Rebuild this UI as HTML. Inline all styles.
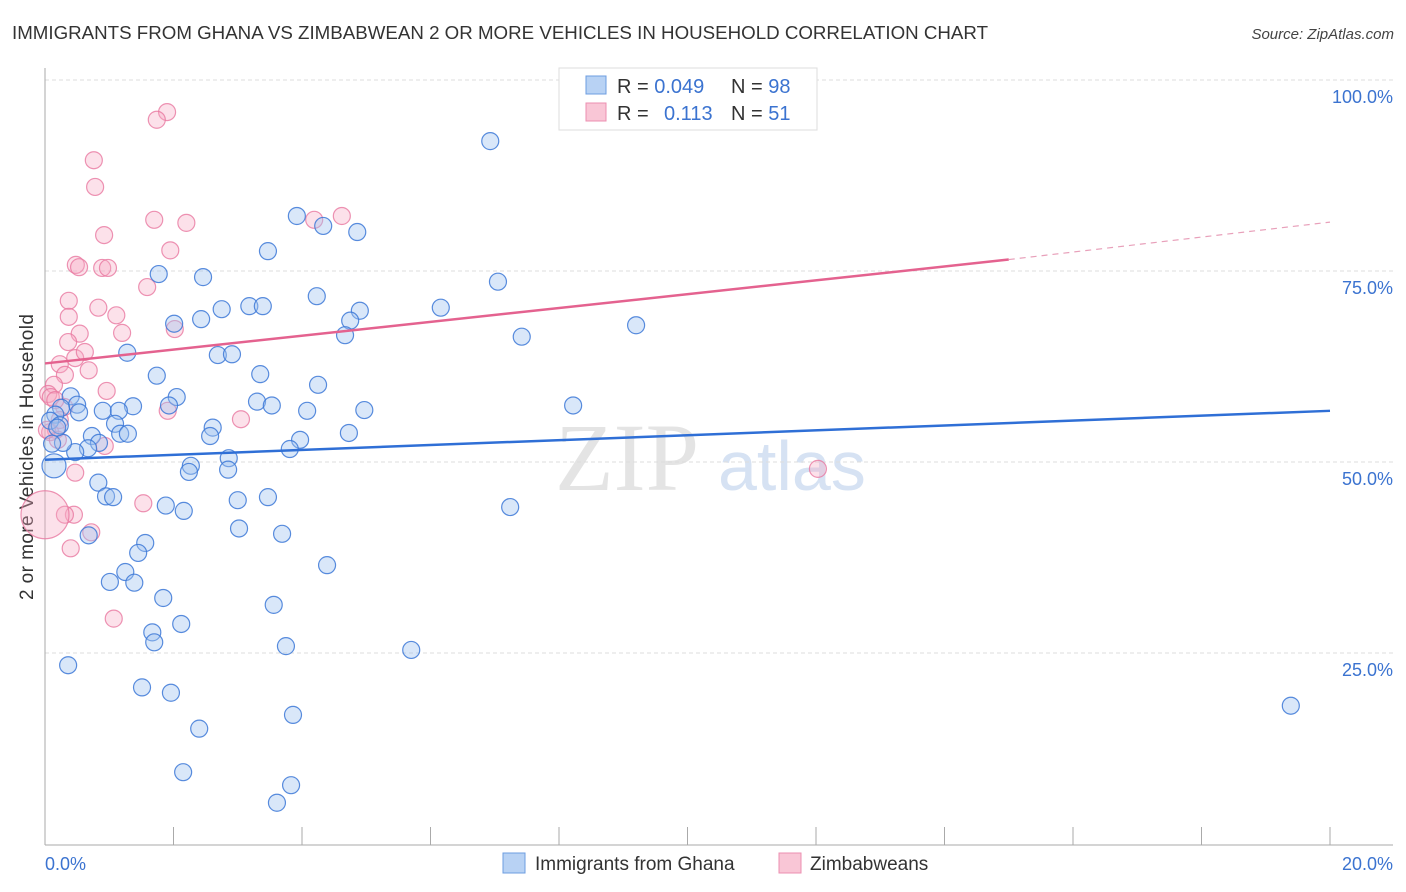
<!DOCTYPE html>
<html><head><meta charset="utf-8">
<style>
body{margin:0;background:#fff;font-family:"Liberation Sans",sans-serif;}
#wrap{position:relative;width:1406px;height:892px;overflow:hidden;}
</style></head>
<body>
<div id="wrap">
<svg id="chart" width="1406" height="892">
<text x="12" y="39" font-size="18" fill="#333" textLength="976" lengthAdjust="spacingAndGlyphs">IMMIGRANTS FROM GHANA VS ZIMBABWEAN 2 OR MORE VEHICLES IN HOUSEHOLD CORRELATION CHART</text>
<text x="1394" y="39" font-size="15" fill="#444" font-style="italic" text-anchor="end">Source: ZipAtlas.com</text>
<text x="0" y="0" transform="translate(33,457) rotate(-90)" font-size="19" fill="#333" text-anchor="middle" textLength="286">2 or more Vehicles in Household</text>
<text x="555" y="490" font-size="96" fill="#e4e4e4" font-family="Liberation Serif,serif">ZIP</text>
<text x="718" y="490" font-size="70" fill="#d6e2f3">atlas</text>
<g id="grid"></g><g id="axes"></g><g id="pts"></g><g id="lines"></g>
<g>
<rect x="559" y="68" width="258" height="62" fill="#fff" stroke="#ddd"/>
<rect x="586" y="76" width="20" height="18" fill="#b8d2f4" stroke="#6d9de0"/>
<rect x="586" y="103" width="20" height="18" fill="#f9c6d6" stroke="#ec8fb0"/>
<text x="617" y="93" font-size="20" fill="#333">R = <tspan fill="#3b73d0">0.049</tspan><tspan x="731">N = </tspan><tspan fill="#3b73d0">98</tspan></text>
<text x="617" y="120" font-size="20" fill="#333">R = <tspan x="664" fill="#3b73d0">0.113</tspan><tspan x="731">N = </tspan><tspan fill="#3b73d0">51</tspan></text>
</g>
<g>
<rect x="503" y="853" width="22" height="20" fill="#b8d2f4" stroke="#6d9de0"/>
<text x="535" y="870" font-size="19" fill="#333">Immigrants from Ghana</text>
<rect x="779" y="853" width="22" height="20" fill="#f9c6d6" stroke="#ec8fb0"/>
<text x="810" y="870" font-size="19" fill="#333">Zimbabweans</text>
</g>
</svg>
</div>
<script>
const xTicks=[0,2,4,6,8,10,12,14,16,18,20];
const yTicks=[25,50,75,100];
const yTickLabels=["25.0%","50.0%","75.0%","100.0%"];
const ghanaX=[6.93,3.92,4.33,4.86,3.47,1.77,2.46,7.05,4.23,3.18,3.39,2.75,4.90,6.16,4.75,2.01,2.43,4.67,7.42,9.20,1.28,2.69,2.91,1.74,3.35,4.25,2.05,0.40,0.50,8.22,3.30,3.53,4.08,4.97,1.93,1.37,0.90,1.15,0.53,0.25,0.16,1.09,2.61,0.08,0.23,2.57,1.17,1.29,4.73,0.73,3.97,3.81,0.84,0.67,0.47,0.28,2.86,2.27,2.24,2.85,0.83,0.95,1.06,3.00,3.47,1.88,2.16,7.24,3.02,3.69,0.68,1.56,1.45,4.39,1.25,1.01,1.39,1.84,3.56,1.67,2.12,1.70,3.75,5.70,0.36,1.51,1.96,2.40,3.86,19.39,2.15,3.83,3.61,0.19,0.11,0.14];
const ghanaY=[92.0,82.2,80.9,80.1,77.6,74.6,74.2,73.6,71.7,70.4,70.4,70.0,69.8,70.2,68.5,68.1,68.7,66.6,66.4,67.9,64.3,64.0,64.1,61.3,61.5,60.1,58.5,58.6,57.5,57.4,57.9,57.4,56.7,56.8,57.4,57.3,56.7,56.7,56.5,57.1,56.2,55.0,54.5,55.4,54.8,53.4,53.7,53.7,53.8,53.4,52.9,51.7,52.5,51.8,51.3,52.5,50.5,49.5,48.7,49.0,47.3,45.5,45.4,45.0,45.4,44.3,43.6,44.1,41.3,40.6,40.4,39.4,38.1,36.5,35.6,34.3,34.2,32.2,31.3,27.7,28.8,26.4,25.9,25.4,23.4,20.5,19.8,15.1,16.9,18.1,9.4,7.7,5.4,54.5,52.4,49.5];
const zimX=[1.90,1.74,0.76,0.78,1.70,2.20,4.19,4.62,0.92,1.95,0.48,0.53,0.89,0.98,1.59,0.37,0.83,1.11,0.37,2.02,1.20,0.54,0.36,0.47,0.62,0.68,0.23,0.31,0.14,0.96,0.05,0.09,0.30,1.91,3.05,0.17,0.08,0.20,0.93,0.47,1.53,0.45,0.31,0.72,0.40,1.07,12.03,0.00,0.16,0.23,0.03];
const zimY=[95.8,94.8,89.5,86.0,81.7,81.3,81.7,82.2,79.7,77.7,75.8,75.5,75.4,75.4,72.9,71.1,70.2,69.2,69.0,67.4,66.9,66.8,65.7,63.6,64.4,62.0,62.8,61.4,60.1,59.3,58.9,58.5,57.2,56.7,55.6,54.2,53.9,52.9,52.1,48.6,44.6,43.1,43.1,40.8,38.7,29.5,49.1,43.1,58.1,55.5,54.2];
const ghanaTrend=[50.3,56.7];
const zimTrend=[62.9,76.5,81.4];
const X0=45,X1=1330,Y0=844,Y100=80;
const sx=v=>X0+(v/20)*(X1-X0);
const sy=v=>Y0-(v/100)*(Y0-Y100);
const NS="http://www.w3.org/2000/svg";
function mk(tag,attrs,parent){const e=document.createElementNS(NS,tag);for(const k in attrs)e.setAttribute(k,attrs[k]);parent.appendChild(e);return e;}
const grid=document.getElementById('grid'),axes=document.getElementById('axes'),pts=document.getElementById('pts'),lines=document.getElementById('lines');
yTicks.forEach((t,i)=>{
 const l=mk('line',{x1:X0,x2:1393,y1:sy(t),y2:sy(t),stroke:'#ddd','stroke-dasharray':'4,3'},grid);
 
 
 const tx=mk('text',{x:1393,y:sy(t)+23,'font-size':18,fill:'#3b73d0','text-anchor':'end'},axes);
 tx.textContent=yTickLabels[i];
 
 
});
const ya=mk('line',{x1:X0,x2:X0,y1:68,y2:Y0+1,stroke:'#aaa'},axes);


const xa=mk('line',{x1:X0,x2:1393,y1:Y0+1,y2:Y0+1,stroke:'#aaa'},axes);


xTicks.forEach(t=>{
 const l=mk('line',{x1:sx(t),x2:sx(t),y1:Y0-17,y2:Y0+1,stroke:'#aaa'},axes);
 
 
});
const xl0=mk('text',{x:45,y:870,'font-size':18,fill:'#3b73d0'},axes);xl0.textContent='0.0%';


const xl1=mk('text',{x:1393,y:870,'font-size':18,fill:'#3b73d0','text-anchor':'end'},axes);xl1.textContent='20.0%';


zimX.forEach((x,i)=>{
 const c=mk('circle',{cx:sx(x),cy:sy(zimY[i]),r:(i===47?24:8.5),fill:'rgba(246,170,196,0.35)',stroke:'rgba(232,120,160,0.8)','stroke-width':1.2},pts);
 
 
});
ghanaX.forEach((x,i)=>{
 const c=mk('circle',{cx:sx(x),cy:sy(ghanaY[i]),r:(i===ghanaX.length-1?12:8.5),fill:'rgba(160,196,240,0.4)',stroke:'rgba(60,120,215,0.85)','stroke-width':1.2},pts);
 
 
});
const bl=mk('line',{x1:sx(0),x2:sx(20),y1:sy(ghanaTrend[0]),y2:sy(ghanaTrend[1]),stroke:'#2f6fd6','stroke-width':2.5},lines);


const pl=mk('line',{x1:sx(0),x2:sx(15),y1:sy(zimTrend[0]),y2:sy(zimTrend[1]),stroke:'#e4628f','stroke-width':2.5},lines);


const pd=mk('line',{x1:sx(15),x2:sx(20),y1:sy(zimTrend[1]),y2:sy(zimTrend[2]),stroke:'#e8a0ba','stroke-width':1.2,'stroke-dasharray':'6,5'},lines);


</script>
</body></html>
